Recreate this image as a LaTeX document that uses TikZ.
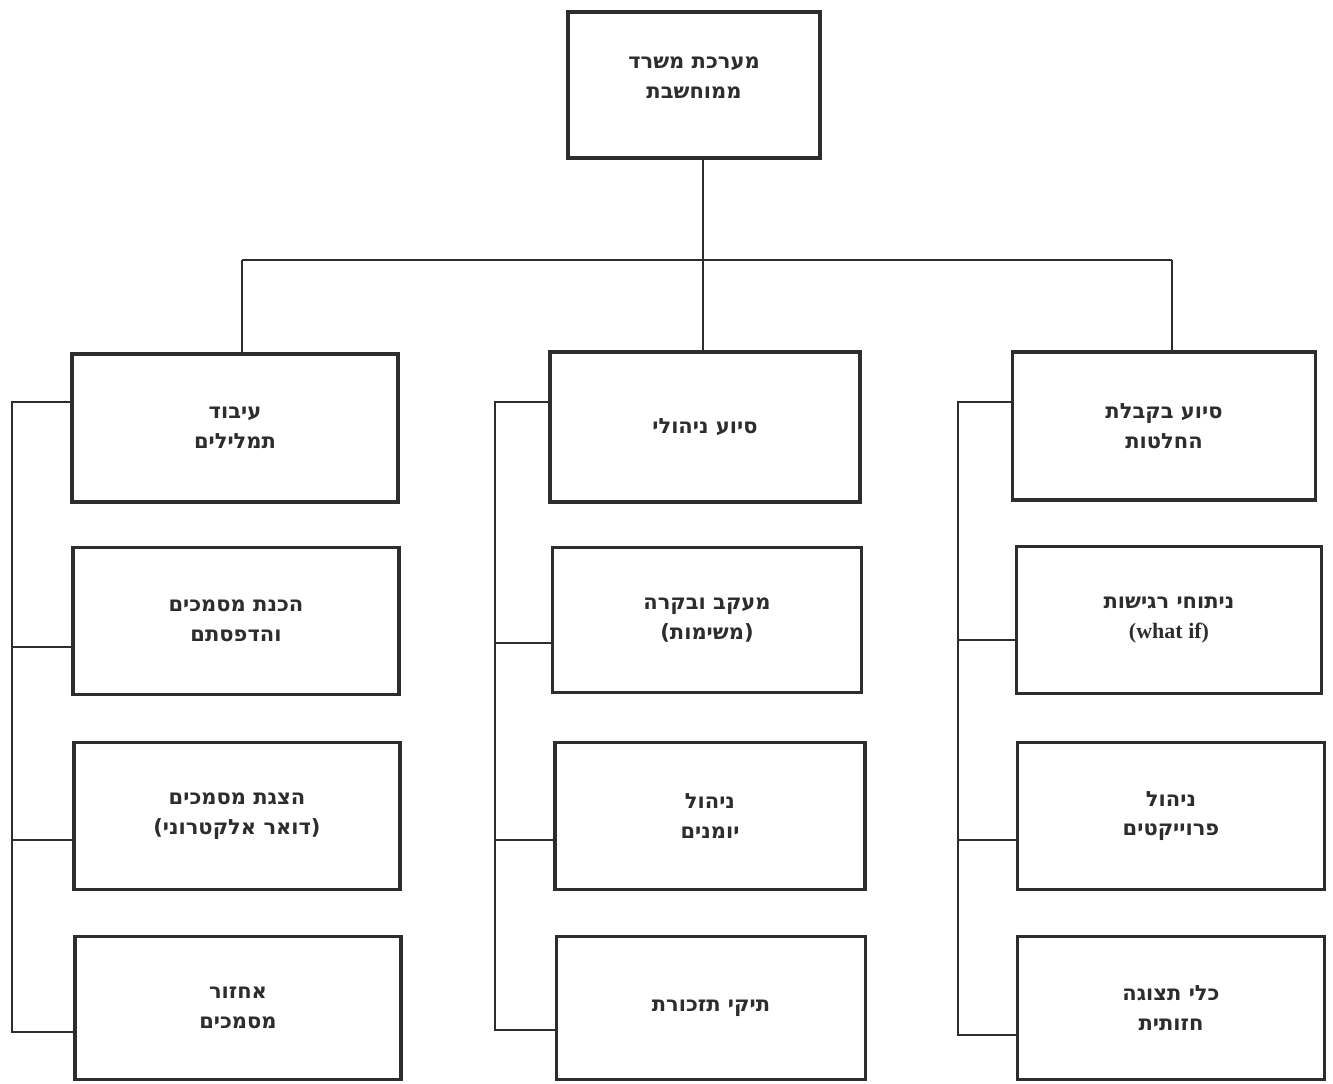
\documentclass[tikz,border=0pt]{standalone}
\usepackage{fontspec}
\setmainfont{Liberation Sans}
\newfontfamily\hebfont[Script=Hebrew]{DejaVu Sans Bold}
\newfontfamily\latfont{Liberation Serif Bold}
\TeXXeTstate=1
\definecolor{ink}{RGB}{45,45,45}
\begin{document}
\begin{tikzpicture}[x=1pt,y=-1pt,
  box/.style={draw=ink,line width=3.6pt,fill=white,inner sep=0pt,align=center,
    font=\hebfont\fontsize{21}{29.5}\selectfont,text=ink},
  conn/.style={draw=ink,line width=1.4pt}]
\useasboundingbox (0,0) rectangle (1333,1084);
% top
\node[box,minimum width=252,minimum height=146] (top) at (694,85) {\beginR מערכת משרד\endR\\\beginR ממוחשבת\endR\\[-15pt]};
% column 1
\node[box,minimum width=326,minimum height=148] (a1) at (235,428) {\beginR עיבוד\endR\\\beginR תמלילים\endR};
\node[box,minimum width=326,minimum height=147] (a2) at (236,621) {\beginR הכנת מסמכים\endR\\\beginR והדפסתם\endR};
\node[box,minimum width=326,minimum height=147] (a3) at (237,816) {\beginR הצגת מסמכים\endR\\\beginR (דואר אלקטרוני)\endR};
\node[box,minimum width=326,minimum height=143] (a4) at (238,1008) {\beginR אחזור\endR\\\beginR מסמכים\endR};
% column 2
\node[box,minimum width=310,minimum height=150] (b1) at (705,427) {\beginR סיוע ניהולי\endR};
\node[box,minimum width=309,minimum height=145] (b2) at (707,620) {\beginR מעקב ובקרה\endR\\\beginR (משימות)\endR};
\node[box,minimum width=310,minimum height=147] (b3) at (710,816) {\beginR ניהול\endR\\\beginR יומנים\endR};
\node[box,minimum width=309,minimum height=143] (b4) at (711,1008) {\beginR תיקי תזכורת\endR};
% column 3
\node[box,minimum width=303,minimum height=148] (c1) at (1164,426) {\beginR סיוע בקבלת\endR\\\beginR החלטות\endR};
\node[box,minimum width=305,minimum height=147] (c2) at (1169,620) {\beginR ניתוחי רגישות\endR\\{\latfont\fontsize{22}{29.5}\selectfont (what if)}};
\node[box,minimum width=307,minimum height=147] (c3) at (1171,816) {\beginR ניהול\endR\\\beginR פרוייקטים\endR};
\node[box,minimum width=307,minimum height=143] (c4) at (1171,1008) {\beginR כלי תצוגה\endR\\\beginR חזותית\endR};
% bus
\coordinate (j) at (703,260);
\coordinate (bl) at (242,260);
\coordinate (br) at (1172,260);
\draw[conn] (j |- top.south) -- (j);
\draw[conn] (bl) -- (br);
\draw[conn] (bl) -- (bl |- a1.north);
\draw[conn] (j) -- (j |- b1.north);
\draw[conn] (br) -- (br |- c1.north);
% column 1 spine
\coordinate (sa1) at (12,402);
\coordinate (sa2) at (12,647);
\coordinate (sa3) at (12,840);
\coordinate (sa4) at (12,1032);
\draw[conn] (a1.west |- sa1) -- (sa1) -- (sa4) -- (a4.west |- sa4);
\draw[conn] (sa2) -- (a2.west |- sa2);
\draw[conn] (sa3) -- (a3.west |- sa3);
% column 2 spine
\coordinate (sb1) at (495,402);
\coordinate (sb2) at (495,643);
\coordinate (sb3) at (495,840);
\coordinate (sb4) at (495,1030);
\draw[conn] (b1.west |- sb1) -- (sb1) -- (sb4) -- (b4.west |- sb4);
\draw[conn] (sb2) -- (b2.west |- sb2);
\draw[conn] (sb3) -- (b3.west |- sb3);
% column 3 spine
\coordinate (sc1) at (958,402);
\coordinate (sc2) at (958,640);
\coordinate (sc3) at (958,840);
\coordinate (sc4) at (958,1035);
\draw[conn] (c1.west |- sc1) -- (sc1) -- (sc4) -- (c4.west |- sc4);
\draw[conn] (sc2) -- (c2.west |- sc2);
\draw[conn] (sc3) -- (c3.west |- sc3);
\end{tikzpicture}
\end{document}
